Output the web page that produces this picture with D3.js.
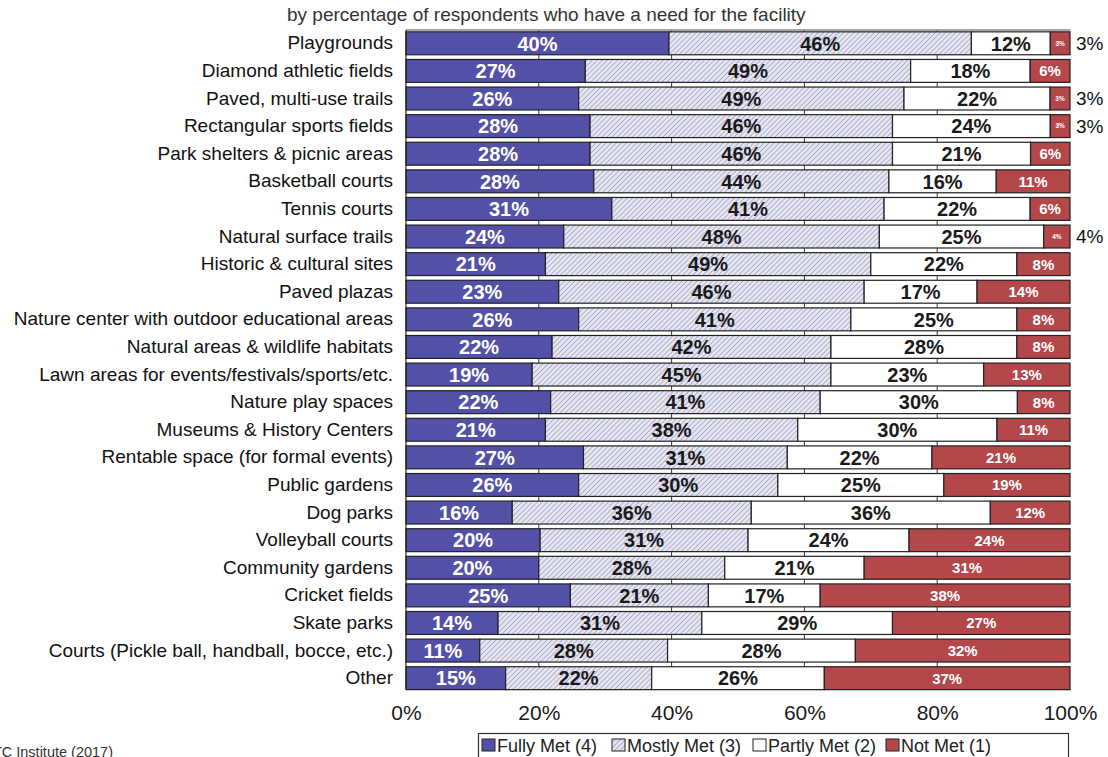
<!DOCTYPE html>
<html><head><meta charset="utf-8">
<script src="https://cdn.jsdelivr.net/npm/d3@7"></script>
<style>body{margin:0;background:#fff}svg{display:block;font-family:"Liberation Sans",Arial,sans-serif}</style>
</head><body>
<svg id="c" width="1108" height="757"></svg>
<script>
const categories = ["Playgrounds","Diamond athletic fields","Paved, multi-use trails","Rectangular sports fields","Park shelters & picnic areas","Basketball courts","Tennis courts","Natural surface trails","Historic & cultural sites","Paved plazas","Nature center with outdoor educational areas","Natural areas & wildlife habitats","Lawn areas for events/festivals/sports/etc.","Nature play spaces","Museums & History Centers","Rentable space (for formal events)","Public gardens","Dog parks","Volleyball courts","Community gardens","Cricket fields","Skate parks","Courts (Pickle ball, handball, bocce, etc.)","Other"];
const fullyMet  = [40,27,26,28,28,28,31,24,21,23,26,22,19,22,21,27,26,16,20,20,25,14,11,15];
const mostlyMet = [46,49,49,46,46,44,41,48,49,46,41,42,45,41,38,31,30,36,31,28,21,31,28,22];
const partlyMet = [12,18,22,24,21,16,22,25,22,17,25,28,23,30,30,22,25,36,24,21,17,29,28,26];
const notMet    = [3,6,3,3,6,11,6,4,8,14,8,8,13,8,11,21,19,12,24,31,38,27,32,37];
const seriesKeys = ["fully","mostly","partly","not"];
const seriesNames = ["Fully Met (4)","Mostly Met (3)","Partly Met (2)","Not Met (1)"];
const xTicks = [0,0.2,0.4,0.6,0.8,1];
const titleText = "by percentage of respondents who have a need for the facility";
const sourceText = "Source: ETC Institute (2017)";

const rows = categories.map((c,i)=>({cat:c,fully:fullyMet[i],mostly:mostlyMet[i],partly:partlyMet[i],not:notMet[i]}));
const stack = d3.stack().keys(seriesKeys).offset(d3.stackOffsetExpand)(rows);

const svg = d3.select("#c");
const x = d3.scaleLinear().domain([0,1]).range([406,1070]);
const y = d3.scaleBand().domain(categories).range([29.5,692]).paddingInner(0.17).paddingOuter(0.085);

const defs = svg.append("defs");
const pat = defs.append("pattern").attr("id","hatch").attr("patternUnits","userSpaceOnUse")
  .attr("width",3.6).attr("height",3.6).attr("patternTransform","rotate(45)");
pat.append("rect").attr("width",3.6).attr("height",3.6).attr("fill","#e6e6f3");
pat.append("line").attr("x1",0).attr("y1",0).attr("x2",0).attr("y2",3.6).attr("stroke","#8585a8").attr("stroke-width",1.1);

const fills = {fully:"#5351a7",mostly:"url(#hatch)",partly:"#ffffff",not:"#b4474a"};

// title
svg.append("text").attr("x",287).attr("y",21).attr("font-size",19).attr("fill","#333").text(titleText);

// gridlines
svg.append("g").selectAll("line").data(xTicks.slice(1,5)).join("line")
  .attr("x1",d=>x(d)).attr("x2",d=>x(d)).attr("y1",30).attr("y2",689)
  .attr("stroke","#333").attr("stroke-width",1);

// top frame
svg.append("line").attr("x1",406).attr("x2",1070).attr("y1",30).attr("y2",30).attr("stroke","#888").attr("stroke-width",1.5);

// bars
const g = svg.append("g");
stack.forEach(s=>{
  g.append("g").selectAll("rect").data(s).join("rect")
    .attr("x",d=>x(d[0])).attr("width",d=>x(d[1])-x(d[0]))
    .attr("y",d=>y(d.data.cat)).attr("height",y.bandwidth())
    .attr("fill",fills[s.key]).attr("stroke","#222").attr("stroke-width",1.2);
});

// labels
stack.forEach(s=>{
  const k = s.key;
  g.append("g").selectAll("text").data(s).join("text")
    .attr("x",d=>(x(d[0])+x(d[1]))/2)
    .attr("y",d=>y(d.data.cat)+y.bandwidth()/2)
    .attr("dy","0.36em").attr("text-anchor","middle")
    .attr("font-weight","bold")
    .attr("font-size",d=>k==="not" ? (d.data.not<5?6.5:15) : 20)
    .attr("fill",k==="fully"||k==="not" ? "#fff" : "#1a1a1a")
    .text(d=>d.data[k]+"%");
});

// outside labels for small Not Met values
g.append("g").selectAll("text").data(rows.filter(r=>r.not<5)).join("text")
  .attr("x",1076).attr("y",d=>y(d.cat)+y.bandwidth()/2).attr("dy","0.36em")
  .attr("font-size",19).attr("fill","#111").text(d=>d.not+"%");

// axes
const yAxis = svg.append("g").attr("transform","translate(406,0)").call(d3.axisLeft(y).tickSize(0).tickPadding(13));
yAxis.select(".domain").attr("stroke","#222").attr("stroke-width",1.2).attr("d","M0,30V689");
yAxis.selectAll("text").attr("font-size",19).attr("fill","#111").attr("font-family","Liberation Sans, Arial, sans-serif");

const xAxis = svg.append("g").attr("transform","translate(0,689)").call(d3.axisBottom(x).tickValues(xTicks).tickFormat(d3.format(".0%")).tickSize(0).tickPadding(16));
xAxis.select(".domain").attr("stroke","#222").attr("stroke-width",1.2);
xAxis.selectAll("text").attr("font-size",21).attr("fill","#1a1a1a").attr("font-family","Liberation Sans, Arial, sans-serif");

// source
svg.append("text").attr("x",113).attr("y",757).attr("text-anchor","end").attr("font-size",14.5).attr("fill","#333").text(sourceText);

// legend
const lg = svg.append("g");
lg.append("rect").attr("x",478.5).attr("y",733.5).attr("width",590).attr("height",30).attr("fill","#fff").attr("stroke","#333").attr("stroke-width",1.2);
const legX = [482,612,753,886];
seriesKeys.forEach((k,i)=>{
  lg.append("rect").attr("x",legX[i]).attr("y",739).attr("width",13).attr("height",12)
    .attr("fill",fills[k]).attr("stroke","#222").attr("stroke-width",1);
  lg.append("text").attr("x",legX[i]+15).attr("y",752).attr("font-size",18).attr("fill","#222").text(seriesNames[i]);
});
</script>
</body></html>
